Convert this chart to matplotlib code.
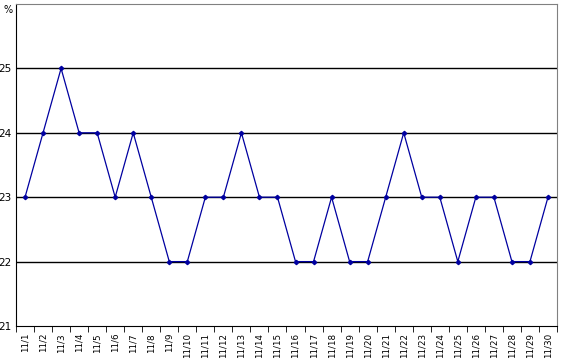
import matplotlib.pyplot as plt
import numpy as np

days = [f"11/{d}" for d in range(1, 31)]
values = [23, 24, 25, 24, 24, 23, 24, 23, 22, 22,
          23, 23, 24, 23, 23, 22, 22, 23, 22, 22,
          23, 24, 23, 23, 22, 23, 23, 22, 22, 23]
yticks = [21, 22, 23, 24, 25]

fig = plt.figure(figsize=(5.61, 3.6), dpi=100)
ax = fig.add_axes([16 / 561, 1 - 326 / 360, 541 / 561, 322 / 360])

x = np.arange(len(days))
ax.plot(x, values, color="#0000a0", lw=0.9, marker="D", ms=2.2, zorder=3)

ax.set_xlim(-0.5, len(days) - 0.5)
ax.set_ylim(21, 26)
ax.set_yticks(yticks)
ax.set_yticklabels([str(v) for v in yticks], fontsize=7.5)
ax.tick_params(axis="y", length=0, pad=3)
for v in yticks[1:]:
    ax.axhline(v, color="black", lw=1, zorder=1)

ax.set_xticks(x)
ax.set_xticklabels(days, rotation=90, fontsize=6.3, va="top")
ax.tick_params(axis="x", length=0, pad=5)
ax.set_xticks(np.arange(-0.5, len(days)), minor=True)
ax.tick_params(axis="x", which="minor", length=4, direction="out", color="black")

for s in ["left", "bottom"]:
    ax.spines[s].set_color("black")
for s in ["top", "right"]:
    ax.spines[s].set_color("#808080")

fig.text(8 / 561, 1 - 10 / 360, "%", fontsize=7, ha="center", va="center")

fig.savefig("out.png", dpi=100)
